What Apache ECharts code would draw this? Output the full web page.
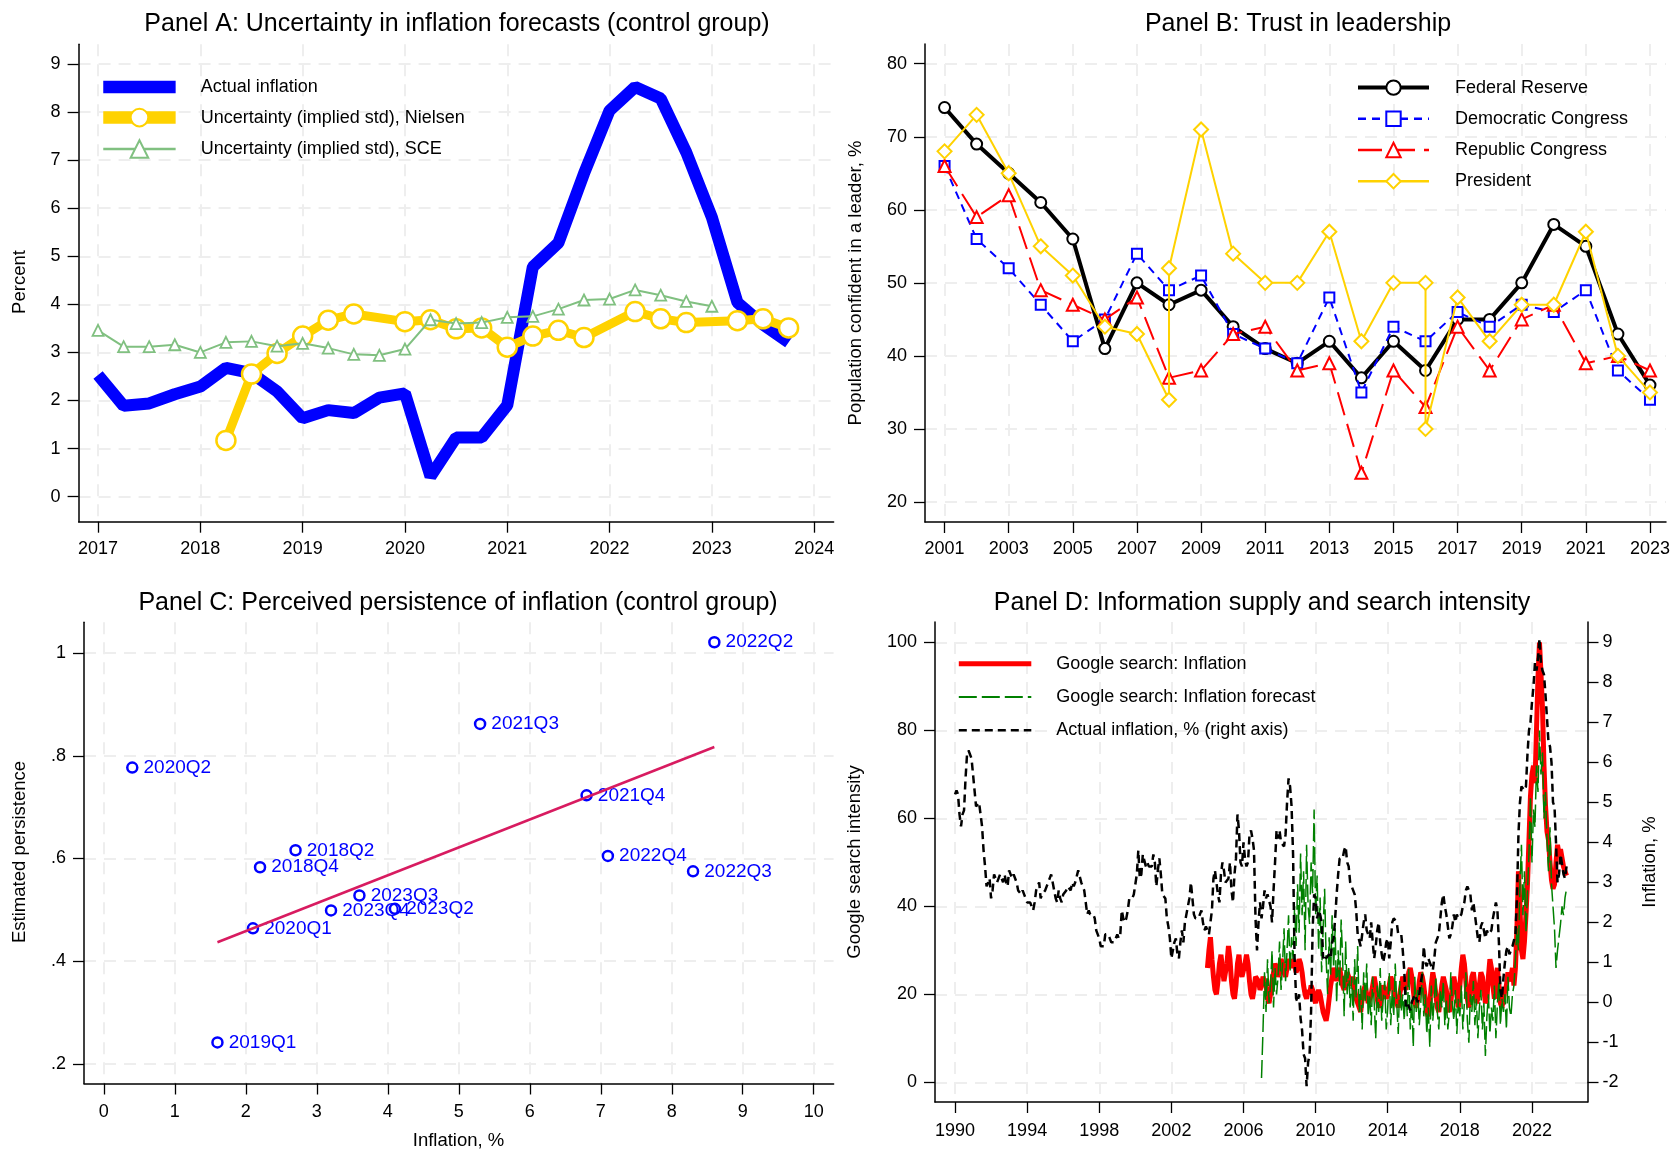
<!DOCTYPE html>
<html>
<head>
<meta charset="utf-8">
<script src="https://cdn.jsdelivr.net/npm/echarts@6/dist/echarts.min.js"></script>
<style>html,body{margin:0;padding:0;background:#fff}#c{width:1673px;height:1152px}</style>
</head>
<body>
<div id="c"></div>
<script>
// ---------- Panel A data (quarterly) ----------
const inflAX = [2017,2017.25,2017.5,2017.75,2018,2018.25,2018.5,2018.75,2019,2019.25,2019.5,2019.75,2020,2020.25,2020.5,2020.75,2021,2021.25,2021.5,2021.75,2022,2022.25,2022.5,2022.75,2023,2023.25,2023.5,2023.75];
const inflA = [2.53,1.89,1.94,2.13,2.29,2.68,2.57,2.19,1.63,1.80,1.74,2.06,2.15,0.42,1.23,1.23,1.90,4.78,5.28,6.72,8.03,8.52,8.28,7.16,5.81,4.04,3.58,3.21];
const nielsenX = [2018.25,2018.5,2018.75,2019,2019.25,2019.5,2020,2020.25,2020.5,2020.75,2021,2021.25,2021.5,2021.75,2022.25,2022.5,2022.75,2023.25,2023.5,2023.75];
const nielsen = [1.17,2.55,2.98,3.34,3.67,3.80,3.64,3.68,3.49,3.51,3.11,3.34,3.46,3.31,3.85,3.70,3.62,3.66,3.70,3.51];
const sceX = [2017,2017.25,2017.5,2017.75,2018,2018.25,2018.5,2018.75,2019,2019.25,2019.5,2019.75,2020,2020.25,2020.5,2020.75,2021,2021.25,2021.5,2021.75,2022,2022.25,2022.5,2022.75,2023];
const sce = [3.46,3.12,3.12,3.16,3.00,3.21,3.23,3.13,3.19,3.09,2.96,2.94,3.07,3.68,3.60,3.62,3.73,3.75,3.90,4.09,4.11,4.30,4.19,4.06,3.96];
const ticksAx = [2017,2018,2019,2020,2021,2022,2023,2024];
const ticksAy = [0,1,2,3,4,5,6,7,8,9];

// ---------- Panel B data (annual) ----------
const yearsB = [2001,2002,2003,2004,2005,2006,2007,2008,2009,2010,2011,2012,2013,2014,2015,2016,2017,2018,2019,2020,2021,2022,2023];
const fedB = [74,69,65,61,56,41,50,47,49,44,41,39,42,37,42,38,45,45,50,58,55,43,36];
const demB = [66,56,52,47,42,45,54,49,51,43,41,39,48,35,44,42,46,44,47,46,49,38,34];
const repB = [66,59,62,49,47,45,48,37,38,43,44,38,39,24,38,33,44,38,45,47,39,40,38];
const presYearsB = [2001,2002,2003,2004,2005,2006,2007,2008,2008,2009,2010,2011,2012,2013,2014,2015,2016,2016,2017,2018,2019,2020,2021,2022,2023];
const presB = [68,73,65,55,51,44,43,34,52,71,54,50,50,57,42,50,50,30,48,42,47,47,57,40,35];
const ticksBx = [2001,2003,2005,2007,2009,2011,2013,2015,2017,2019,2021,2023];
const ticksBy = [20,30,40,50,60,70,80];

// ---------- Panel C data ----------
const persistLabels = ['2022Q2','2021Q3','2020Q2','2021Q4','2018Q2','2018Q4','2022Q4','2022Q3','2023Q3','2023Q4','2023Q2','2020Q1','2019Q1'];
const persistX = [8.6,5.3,0.4,6.8,2.7,2.2,7.1,8.3,3.6,3.2,4.1,2.1,1.6];
const persistY = [1.021,0.862,0.777,0.723,0.616,0.583,0.605,0.575,0.528,0.499,0.502,0.464,0.242];
const fitX = [1.6,8.6];
const fitY = [0.437,0.817];
const ticksCx = [0,1,2,3,4,5,6,7,8,9,10];
const ticksCy = [0.2,0.4,0.6,0.8,1];

// ---------- Panel D data (monthly) ----------
const inflStartD = 1990;
const inflD = [
5.2,5.3,5.2,4.7,4.4,4.7,4.8,5.6,6.2,6.3,6.3,6.1,
5.7,5.3,4.9,4.9,5.0,4.7,4.4,3.8,3.4,2.9,3.0,3.1,
2.6,2.8,3.2,3.2,3.0,3.1,3.2,3.1,3.0,3.2,3.0,2.9,
3.3,3.2,3.1,3.2,3.2,3.0,2.8,2.8,2.7,2.8,2.7,2.7,
2.5,2.5,2.5,2.4,2.3,2.5,2.8,2.9,3.0,2.6,2.7,2.7,
2.8,2.9,2.9,3.1,3.2,3.0,2.8,2.6,2.5,2.8,2.6,2.5,
2.7,2.7,2.8,2.9,2.9,2.8,3.0,2.9,3.0,3.0,3.3,3.3,
3.0,3.0,2.8,2.5,2.2,2.3,2.2,2.2,2.2,2.1,1.8,1.7,
1.6,1.4,1.4,1.4,1.7,1.7,1.7,1.6,1.5,1.5,1.5,1.6,
1.7,1.6,1.7,2.3,2.1,2.0,2.1,2.3,2.6,2.6,2.6,2.7,
2.7,3.2,3.8,3.1,3.2,3.7,3.7,3.4,3.5,3.4,3.4,3.4,
3.7,3.5,2.9,3.3,3.6,3.2,2.7,2.7,2.6,2.1,1.9,1.6,
1.1,1.1,1.5,1.6,1.2,1.1,1.5,1.8,1.5,2.0,2.2,2.4,
2.6,3.0,3.0,2.2,2.1,2.1,2.1,2.2,2.3,2.0,1.8,1.9,
1.9,1.7,1.7,2.3,3.1,3.3,3.0,2.7,2.5,3.2,3.5,3.3,
3.0,3.0,3.1,3.5,2.8,2.5,3.2,3.6,4.7,4.3,3.5,3.4,
4.0,3.6,3.4,3.5,4.2,4.3,4.1,3.8,2.1,1.3,2.0,2.5,
2.1,2.4,2.8,2.6,2.7,2.7,2.4,2.0,2.8,3.5,4.3,4.1,
4.3,4.0,4.0,3.9,4.2,5.0,5.6,5.4,4.9,3.7,1.1,0.1,
0.0,0.2,-0.4,-0.7,-1.3,-1.4,-2.1,-1.5,-1.3,-0.2,1.8,2.7,
2.6,2.1,2.3,2.2,2.0,1.1,1.2,1.1,1.1,1.2,1.1,1.5,
1.6,2.1,2.7,3.2,3.6,3.6,3.6,3.8,3.9,3.5,3.4,3.0,
2.9,2.9,2.7,2.3,1.7,1.7,1.4,1.7,2.0,2.2,1.8,1.7,
1.6,2.0,1.5,1.1,1.4,1.8,2.0,1.5,1.2,1.0,1.2,1.5,
1.6,1.1,1.5,2.0,2.1,2.1,2.0,1.7,1.7,1.7,1.3,0.8,
-0.1,0.0,-0.1,-0.2,0.0,0.1,0.2,0.2,0.0,0.2,0.5,0.7,
1.4,1.0,0.9,1.1,1.0,1.0,0.8,1.1,1.5,1.6,1.7,2.1,
2.5,2.7,2.4,2.2,1.9,1.6,1.7,1.9,2.2,2.0,2.2,2.1,
2.1,2.2,2.4,2.5,2.8,2.9,2.9,2.7,2.3,2.5,2.2,1.9,
1.6,1.5,1.9,2.0,1.8,1.6,1.8,1.7,1.7,1.8,2.1,2.3,
2.5,2.3,1.5,0.3,0.1,0.6,1.0,1.3,1.4,1.2,1.2,1.4,
1.4,1.7,2.6,4.2,5.0,5.4,5.4,5.3,5.4,6.2,6.8,7.0,
7.5,7.9,8.5,8.3,8.6,9.1,8.5,8.3,8.2,7.7,7.1,6.5,
6.4,6.0,5.0,4.9,4.0,3.0,3.2,3.7,3.7,3.2,3.1,3.4];
const googleInflStart = 2004;
const googleInfl = [
26,30,33,28,24,21,20,23,27,29,26,23,
23,27,31,28,23,20,19,22,27,29,25,24,
24,27,29,27,23,20,19,21,24,24,23,21,
22,24,24,22,19,18,20,23,25,27,26,24,
25,28,27,25,24,26,28,27,26,28,27,25,
26,28,27,25,22,20,19,21,20,22,21,19,
18,20,21,20,18,16,15,14,16,19,22,24,
26,25,23,25,26,24,22,21,23,25,24,22,
22,24,21,19,18,17,16,19,21,22,20,18,
18,20,22,24,22,19,17,18,20,22,21,19,
20,22,24,23,21,19,18,17,20,22,24,23,
21,23,25,26,24,21,18,17,19,23,25,24,
22,19,16,15,18,22,25,23,20,17,16,19,
22,24,24,21,17,16,18,22,24,24,20,17,
22,26,29,27,23,19,17,20,24,25,22,18,
19,22,25,24,21,18,19,24,28,26,22,19,
24,26,22,18,17,19,21,22,25,23,24,26,
22,26,35,48,40,30,28,32,38,45,55,65,
70,72,68,80,92,100,93,85,72,63,57,55,
50,46,44,45,50,54,52,53,51,49,48,47];
const googleFcstStart = 2007;
const googleFcst = [
1,12,25,16,28,18,22,30,17,26,20,24,
32,21,27,35,23,30,38,25,33,28,40,31,
45,34,52,38,48,30,54,40,36,50,43,62,
38,47,30,42,25,35,44,28,20,33,24,38,
26,35,18,30,22,37,28,15,32,20,26,17,
24,14,28,19,31,16,22,12,25,18,27,15,
20,13,24,18,10,22,16,26,14,19,23,12,
17,25,13,21,15,27,18,11,23,16,20,14,
22,15,26,12,19,8,24,16,21,13,18,25,
15,20,11,17,8,22,14,19,24,16,12,21,
17,23,13,19,12,16,25,18,14,21,11,19,
15,22,12,18,25,14,9,20,16,23,13,19,
10,17,21,12,18,6,15,20,11,17,14,22,
10,18,23,13,19,16,20,12,24,17,15,20,
22,28,35,30,45,54,38,48,34,43,52,65,
50,62,58,72,66,80,70,75,60,66,55,48,
58,45,40,35,26,30,33,36,40,38,42,44];
const ticksDx = [1990,1994,1998,2002,2006,2010,2014,2018,2022];
const ticksDyL = [0,20,40,60,80,100];
const ticksDyR = [-2,-1,0,1,2,3,4,5,6,7,8,9];

// ---------- helpers ----------
const FONT = "'Liberation Sans', Arial, sans-serif";
const GOLD = '#FFD200';
function pairs(xs, ys){ return xs.map((x,i)=>[x, ys[i]]); }
function monthly(start, vals){ return vals.map((v,i)=>[start + i/12, v]); }
function axis(gridIndex, min, max, ticks, extra){
  const base = {
    type:'value', gridIndex, min, max, scale:false,
    axisLine:{show:true, onZero:false, lineStyle:{color:'#000', width:1.5}},
    axisTick:{show:true, length:11, customValues:ticks, lineStyle:{color:'#000', width:1.3}},
    axisLabel:{color:'#000', fontSize:18, fontFamily:FONT, margin:18, customValues:ticks, formatter:v=>String(v)},
    splitLine:{show:true, lineStyle:{color:'#EEEEEE', width:2, type:[12,8]}}
  };
  if (extra) {
    for (const k in extra) {
      if (typeof extra[k]==='object' && !Array.isArray(extra[k]) && base[k]) base[k] = Object.assign({}, base[k], extra[k]);
      else base[k] = extra[k];
    }
  }
  return base;
}
function txt(x, y, s, size, rot){
  return {type:'text', x, y, rotation: rot||0, silent:true,
    style:{text:s, fill:'#000', font: size+'px '+FONT, textAlign:'center', textVerticalAlign:'middle'}};
}
function legendText(pad){
  return {color:'#000', fontSize:18, fontFamily:FONT,
    rich:{t:{color:'#000', fontSize:18, fontFamily:FONT, lineHeight:18, padding:[0,0,0,pad]}}};
}
const legendFmt = name => '{t|' + name + '}';
const noSym = {opacity:0};

const option = {
  animation:false,
  backgroundColor:'#fff',
  grid:[
    {left:78.6, top:44.2, width:755, height:477.5},
    {left:925, top:44, width:743, height:478},
    {left:84, top:622.2, width:749.6, height:461.3},
    {left:935, top:622, width:652.5, height:480}
  ],
  xAxis:[
    axis(0, 2016.81, 2024.19, ticksAx),
    axis(1, 2000.39, 2023.5, ticksBx),
    axis(2, -0.28, 10.28, ticksCx, {axisLabel:{margin:20}}),
    axis(3, 1988.89, 2025.08, ticksDx, {axisLabel:{margin:20}})
  ],
  yAxis:[
    axis(0, -0.52, 9.41, ticksAy),
    axis(1, 17.26, 82.7, ticksBy),
    axis(2, 0.162, 1.06, ticksCy, {axisLabel:{formatter:v=> v>=1 ? String(v) : String(+v.toFixed(1)).replace('0.','.')}}),
    axis(3, -4.48, 104.66, ticksDyL),
    axis(3, -2.493, 9.513, ticksDyR, {position:'right', splitLine:{show:false}, axisLabel:{margin:15}})
  ],
  legend:[
    {orient:'vertical', left:97, top:78, padding:0, itemWidth:72.4, itemHeight:22, itemGap:11.8, selectedMode:false,
     formatter:legendFmt, textStyle:legendText(20),
     data:[{name:'Actual inflation', itemStyle:noSym, lineStyle:{width:12.5}},
           {name:'Uncertainty (implied std), Nielsen', lineStyle:{width:12.5}},
           {name:'Uncertainty (implied std), SCE', lineStyle:{width:2.5}}]},
    {orient:'vertical', left:1356, top:78.6, padding:0, itemWidth:71, itemHeight:18, itemGap:13.2, selectedMode:false,
     formatter:legendFmt, textStyle:legendText(21),
     data:[{name:'Federal Reserve', lineStyle:{width:4}},
           {name:'Democratic Congress', lineStyle:{width:2.5}},
           {name:'Republic Congress', lineStyle:{width:2.5}},
           {name:'President', lineStyle:{width:2.5}}]},
    {orient:'vertical', left:956.3, top:654.8, padding:0, itemWidth:72.5, itemHeight:18, itemGap:15.2, selectedMode:false,
     formatter:legendFmt, textStyle:legendText(20),
     data:[{name:'Google search: Inflation', itemStyle:noSym, lineStyle:{width:5}},
           {name:'Google search: Inflation forecast', itemStyle:noSym, lineStyle:{width:1.8}},
           {name:'Actual inflation, % (right axis)', itemStyle:noSym, lineStyle:{width:2.5}}]}
  ],
  graphic:[
    txt(457, 24, 'Panel A: Uncertainty in inflation forecasts (control group)', 25),
    txt(1298, 24, 'Panel B: Trust in leadership', 25),
    txt(458, 603, 'Panel C: Perceived persistence of inflation (control group)', 25),
    txt(1262, 603, 'Panel D: Information supply and search intensity', 25),
    txt(20, 282, 'Percent', 18.5, Math.PI/2),
    txt(856, 283, 'Population confident in a leader, %', 18.5, Math.PI/2),
    txt(20, 852, 'Estimated persistence', 18.5, Math.PI/2),
    txt(458.5, 1141, 'Inflation, %', 18.5),
    txt(855, 862, 'Google search intensity', 18.5, Math.PI/2),
    txt(1650, 862, 'Inflation, %', 18.5, Math.PI/2)
  ],
  series:[
    // Panel A
    {name:'Actual inflation', type:'line', xAxisIndex:0, yAxisIndex:0, data:pairs(inflAX, inflA),
     symbol:'none', lineStyle:{color:'#0000FF', width:12}, itemStyle:{color:'#0000FF'}, z:2},
    {name:'Uncertainty (implied std), Nielsen', type:'line', xAxisIndex:0, yAxisIndex:0, data:pairs(nielsenX, nielsen),
     symbol:'circle', symbolSize:19, lineStyle:{color:GOLD, width:9},
     itemStyle:{color:'#fff', borderColor:GOLD, borderWidth:2.5}, z:3},
    {name:'Uncertainty (implied std), SCE', type:'line', xAxisIndex:0, yAxisIndex:0, data:pairs(sceX, sce),
     symbol:'triangle', symbolSize:11, lineStyle:{color:'#80C080', width:2},
     itemStyle:{color:'#fff', borderColor:'#80C080', borderWidth:1.8}, z:4},
    // Panel B
    {name:'Federal Reserve', type:'line', xAxisIndex:1, yAxisIndex:1, data:pairs(yearsB, fedB),
     symbol:'circle', symbolSize:11, lineStyle:{color:'#000', width:4},
     itemStyle:{color:'#fff', borderColor:'#000', borderWidth:2}, z:2},
    {name:'Democratic Congress', type:'line', xAxisIndex:1, yAxisIndex:1, data:pairs(yearsB, demB),
     symbol:'rect', symbolSize:10, lineStyle:{color:'#0000FF', width:2, type:[8,6]},
     itemStyle:{color:'#fff', borderColor:'#0000FF', borderWidth:2}, z:3},
    {name:'Republic Congress', type:'line', xAxisIndex:1, yAxisIndex:1, data:pairs(yearsB, repB),
     symbol:'triangle', symbolSize:12, lineStyle:{color:'#FF0000', width:2, type:[24,9]},
     itemStyle:{color:'#fff', borderColor:'#FF0000', borderWidth:2}, z:4},
    {name:'President', type:'line', xAxisIndex:1, yAxisIndex:1, data:pairs(presYearsB, presB),
     symbol:'diamond', symbolSize:14, lineStyle:{color:GOLD, width:2},
     itemStyle:{color:'#fff', borderColor:GOLD, borderWidth:2}, z:5},
    // Panel C
    {name:'persistence', type:'scatter', xAxisIndex:2, yAxisIndex:2,
     data:persistX.map((x,i)=>({value:[x, persistY[i]], name:persistLabels[i]})),
     symbol:'circle', symbolSize:10, itemStyle:{color:'#fff', borderColor:'#0000FF', borderWidth:2.5, opacity:1},
     label:{show:true, position:'right', distance:5, formatter:p=>p.name, color:'#0000FF', fontSize:19, fontFamily:FONT, opacity:1}, z:3},
    {name:'fit', type:'line', xAxisIndex:2, yAxisIndex:2, data:pairs(fitX, fitY),
     symbol:'none', lineStyle:{color:'#D81B60', width:2.5}, z:4},
    // Panel D
    {name:'Google search: Inflation', type:'line', xAxisIndex:3, yAxisIndex:3, data:monthly(googleInflStart, googleInfl),
     symbol:'none', lineStyle:{color:'#FF0000', width:5}, itemStyle:{color:'#FF0000'}, z:2},
    {name:'Google search: Inflation forecast', type:'line', xAxisIndex:3, yAxisIndex:3, data:monthly(googleFcstStart, googleFcst),
     symbol:'none', lineStyle:{color:'#008000', width:1.5, type:[18,5]}, itemStyle:{color:'#008000'}, z:3},
    {name:'Actual inflation, % (right axis)', type:'line', xAxisIndex:3, yAxisIndex:4, data:monthly(inflStartD, inflD),
     symbol:'none', lineStyle:{color:'#000', width:2.5, type:[8,5]}, itemStyle:{color:'#000'}, z:4}
  ]
};
const chart = echarts.init(document.getElementById('c'), null, {renderer:'canvas'});
chart.setOption(option);
</script>
</body>
</html>
